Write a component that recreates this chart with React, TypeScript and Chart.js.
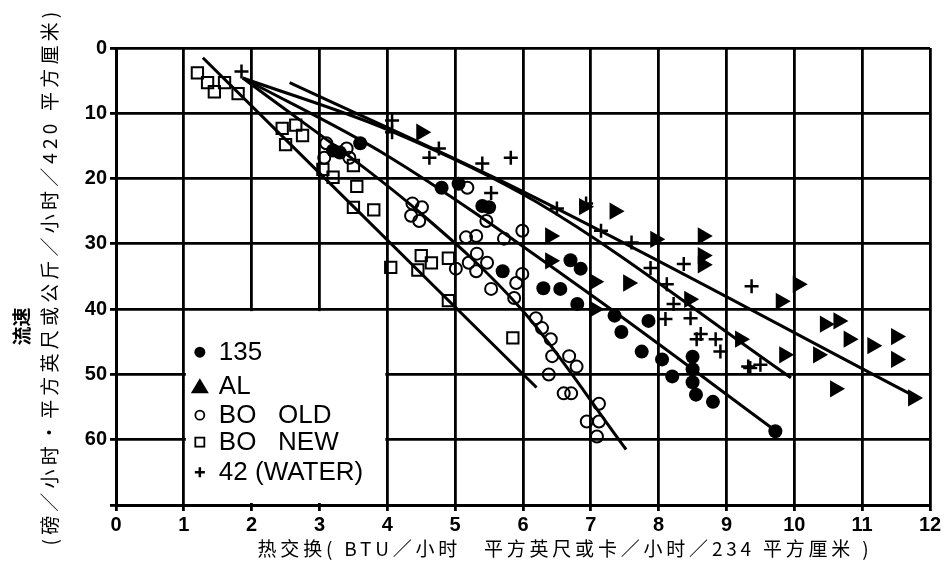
import React, { useEffect, useRef } from 'react';
import { Chart, registerables } from 'chart.js';

Chart.register(...registerables);

// ---------- data ----------
const seriesLabels = ['135', 'AL', 'BO   OLD', 'BO   NEW', '42 (WATER)'];

const x135 = [3.2, 3.3, 3.6, 4.8, 5.05, 5.4, 5.5, 5.7, 6.3, 6.55, 6.7, 6.85, 6.8, 7.35, 7.45, 7.85, 7.75, 8.05, 8.2, 8.5, 8.5, 8.5, 8.55, 8.8, 9.72];
const y135 = [15.7, 16.0, 14.6, 21.4, 20.8, 24.2, 24.4, 34.2, 36.8, 36.9, 32.5, 33.8, 39.2, 41.0, 43.5, 41.8, 46.5, 47.7, 50.3, 47.3, 49.2, 51.2, 53.1, 54.2, 58.7];

const xAL = [4.5, 6.9, 7.35, 6.4, 6.4, 7.05, 7.55, 7.05, 7.95, 8.65, 8.65, 8.65, 8.45, 9.2, 9.8, 10.05, 10.45, 10.65, 10.8, 11.15, 11.5, 11.5, 9.85, 10.35, 10.6, 11.75];
const yAL = [12.9, 24.3, 25.0, 28.8, 32.6, 35.8, 36.0, 40.0, 29.3, 28.8, 31.8, 33.2, 38.5, 44.6, 38.8, 36.2, 42.3, 41.8, 44.6, 45.6, 44.2, 47.7, 47.0, 47.0, 52.2, 53.6];

const xOld = [3.1, 3.4, 3.44, 3.07, 4.37, 4.51, 4.35, 4.47, 5.16, 5.31, 5.72, 5.99, 5.01, 5.2, 5.32, 5.47, 5.31, 5.53, 5.9, 5.99, 5.87, 6.19, 6.28, 6.41, 6.43, 6.68, 6.79, 6.38, 6.6, 6.71, 7.12, 6.94, 7.12, 7.09, 5.18, 5.46];
const yOld = [14.6, 15.4, 16.8, 16.8, 23.8, 24.4, 25.7, 26.5, 29.0, 28.8, 29.2, 28.0, 33.8, 32.9, 31.5, 32.9, 34.2, 36.9, 36.0, 34.6, 38.3, 41.4, 42.9, 44.6, 47.2, 47.2, 48.8, 50.0, 52.9, 52.9, 54.5, 57.2, 57.2, 59.5, 21.4, 26.5];

const xNew = [1.2, 1.35, 1.45, 1.6, 1.8, 2.45, 2.65, 2.75, 2.5, 3.05, 3.2, 3.5, 3.55, 3.5, 3.8, 4.05, 4.45, 4.5, 4.65, 4.9, 4.9, 5.85];
const yNew = [3.8, 5.3, 6.7, 5.3, 7.0, 12.3, 11.8, 13.4, 14.8, 18.6, 19.8, 18.0, 21.2, 24.4, 24.8, 33.6, 34.0, 31.8, 32.9, 32.2, 38.7, 44.4];

const xWater = [1.85, 4.07, 4.07, 4.62, 4.76, 5.4, 5.82, 5.53, 6.5, 6.93, 7.15, 7.6, 7.88, 8.37, 8.12, 8.22, 8.1, 8.47, 8.62, 8.56, 8.84, 8.91, 9.32, 9.37, 9.35, 9.5];
const yWater = [3.6, 11.1, 12.9, 16.8, 15.4, 17.7, 16.8, 22.2, 24.6, 23.8, 28.0, 29.8, 33.7, 33.1, 36.2, 39.2, 41.5, 41.4, 43.8, 44.6, 44.6, 46.5, 48.8, 36.5, 49.0, 48.5];

// fitted lines
const fitNewX = [1.28, 6.2];
const fitNewY = [1.5, 52.0];
const fitOldX = [1.87, 4.4, 6.0, 7.52];
const fitOldY = [4.6, 24.5, 40.3, 61.5];
const fit135X = [1.87, 4.0, 7.0, 9.72];
const fit135Y = [4.6, 16.5, 37.8, 58.6];
const fitWaterX = [1.87, 4.0, 6.2, 9.95];
const fitWaterY = [4.6, 12.5, 23.6, 50.5];
const fitALX = [2.56, 6.0, 11.8];
const fitALY = [5.3, 22.0, 53.5];

const xMin = 0, xMax = 12, xStep = 1;
const yMin = 0, yMax = 70, yStep = 10;

const yTitleMain = '流速';
const yTitleSub = '(磅／小时·平方英尺或公斤／小时／420 平方厘米)';
const xTitleText = '热交换( BTU／小时　平方英尺或卡／小时／234 平方厘米 )';

const zip = (xs: number[], ys: number[]) => xs.map((x, i) => ({ x, y: ys[i] }));

const tickFont = { family: '"Liberation Sans", Arial, sans-serif', size: 20, weight: 'bold' as const };

const legendPlugin = {
  id: 'insetLegend',
  beforeDatasetsDraw(chart: any) {
    const { ctx, scales } = chart;
    const xs = scales.x, ys = scales.y;
    const left = xs.getPixelForValue(1) + 2;
    const right = xs.getPixelForValue(4) - 2;
    const top = ys.getPixelForValue(40) + 2;
    const bottom = ys.getPixelForValue(70) - 2;
    ctx.save();
    ctx.fillStyle = '#fff';
    ctx.fillRect(left, top, right - left, bottom - top);
    const mx = left + 14;
    const tx = left + 33;
    const rows = [43, 77, 106, 133, 163].map((d) => top - 2 + d);
    ctx.fillStyle = '#000';
    ctx.strokeStyle = '#000';
    ctx.beginPath();
    ctx.arc(mx, rows[0], 5.5, 0, Math.PI * 2);
    ctx.fill();
    ctx.beginPath();
    ctx.moveTo(mx, rows[1] - 8);
    ctx.lineTo(mx + 9, rows[1] + 7);
    ctx.lineTo(mx - 9, rows[1] + 7);
    ctx.closePath();
    ctx.fill();
    ctx.lineWidth = 1.8;
    ctx.beginPath();
    ctx.arc(mx, rows[2], 4.5, 0, Math.PI * 2);
    ctx.stroke();
    ctx.strokeRect(mx - 4.5, rows[3] - 4.5, 9, 9);
    ctx.lineWidth = 2.5;
    ctx.beginPath();
    ctx.moveTo(mx - 5, rows[4]);
    ctx.lineTo(mx + 5, rows[4]);
    ctx.moveTo(mx, rows[4] - 5);
    ctx.lineTo(mx, rows[4] + 5);
    ctx.stroke();
    ctx.font = '26px "Liberation Sans", Arial, sans-serif';
    ctx.textAlign = 'left';
    ctx.textBaseline = 'middle';
    seriesLabels.forEach((t, i) => ctx.fillText(t, tx, rows[i] + 1));
    ctx.restore();
  },
};

const titlePlugin = {
  id: 'axisTitles',
  afterDraw(chart: any) {
    const { ctx, chartArea } = chart;
    const cx = (chartArea.left + chartArea.right) / 2;
    const cy = (chartArea.top + chartArea.bottom) / 2;
    ctx.save();
    ctx.fillStyle = '#000';
    ctx.textAlign = 'center';
    ctx.textBaseline = 'middle';
    ctx.font = '19px "Noto Sans CJK SC", sans-serif';
    (ctx as any).letterSpacing = '3.8px';
    ctx.fillText(xTitleText, cx + 42, chart.height - 12);
    ctx.save();
    (ctx as any).letterSpacing = '4.2px';
    ctx.translate(50, cy);
    ctx.rotate(-Math.PI / 2);
    ctx.fillText(yTitleSub, 0, 0);
    ctx.restore();
    ctx.save();
    ctx.font = 'bold 19px "Noto Sans CJK SC", sans-serif';
    (ctx as any).letterSpacing = '0px';
    ctx.translate(22, cy + 50);
    ctx.rotate(-Math.PI / 2);
    ctx.fillText(yTitleMain, 0, 0);
    ctx.restore();
    ctx.restore();
  },
};

export default function App() {
  const ref = useRef<HTMLCanvasElement | null>(null);
  useEffect(() => {
    if (!ref.current) return;
    const lineDs = (xs: number[], ys: number[]) => ({
      type: 'line' as const,
      data: zip(xs, ys),
      showLine: true,
      borderColor: '#000',
      borderWidth: 3,
      pointRadius: 0,
      fill: false,
      cubicInterpolationMode: 'monotone' as const,
    });
    const chart = new Chart(ref.current, {
      type: 'scatter',
      data: {
        datasets: [
          {
            label: seriesLabels[0], data: zip(x135, y135), pointStyle: 'circle', pointRadius: 7,
            backgroundColor: '#000', borderColor: '#000', borderWidth: 0,
          },
          {
            label: seriesLabels[1], data: zip(xAL, yAL), pointStyle: 'triangle', pointRotation: 90, pointRadius: 10,
            backgroundColor: '#000', borderColor: '#000', borderWidth: 0,
          },
          {
            label: seriesLabels[2], data: zip(xOld, yOld), pointStyle: 'circle', pointRadius: 6,
            backgroundColor: 'rgba(0,0,0,0)', borderColor: '#000', borderWidth: 2,
          },
          {
            label: seriesLabels[3], data: zip(xNew, yNew), pointStyle: 'rect', pointRadius: 8,
            backgroundColor: 'rgba(0,0,0,0)', borderColor: '#000', borderWidth: 2,
          },
          {
            label: seriesLabels[4], data: zip(xWater, yWater), pointStyle: 'cross', pointRadius: 7,
            backgroundColor: '#000', borderColor: '#000', borderWidth: 2.5,
          },
          lineDs(fitNewX, fitNewY),
          lineDs(fitOldX, fitOldY),
          lineDs(fit135X, fit135Y),
          lineDs(fitWaterX, fitWaterY),
          lineDs(fitALX, fitALY),
        ] as any,
      },
      options: {
        responsive: false,
        animation: false,
        devicePixelRatio: 1,
        layout: { padding: { top: 48, right: 15, left: 0, bottom: 0 } },
        plugins: { legend: { display: false }, tooltip: { enabled: false } },
        scales: {
          x: {
            type: 'linear', min: xMin, max: xMax,
            ticks: { stepSize: xStep, color: '#000', font: tickFont, padding: 2, maxRotation: 0, autoSkip: false },
            grid: { color: '#000', lineWidth: 2.8, tickLength: 6 },
            border: { color: '#000', width: 3 },
            afterFit: (s: any) => { s.height = 56; },
          },
          y: {
            type: 'linear', min: yMin, max: yMax, reverse: true,
            ticks: {
              stepSize: yStep, color: '#000', font: tickFont, padding: 3, autoSkip: false,
              callback: (v: any) => (v === yMax ? '' : String(v)),
            },
            grid: { color: '#000', lineWidth: 2.8, tickLength: 6 },
            border: { color: '#000', width: 3 },
            afterFit: (s: any) => { s.width = 116; },
          },
        },
      } as any,
      plugins: [legendPlugin, titlePlugin],
    });
    return () => chart.destroy();
  }, []);
  return (
    <div style={{ position: 'fixed', left: 0, top: 0, width: 945, height: 561, background: '#fff' }}>
      <canvas ref={ref} width={945} height={561} style={{ display: 'block' }} />
    </div>
  );
}
